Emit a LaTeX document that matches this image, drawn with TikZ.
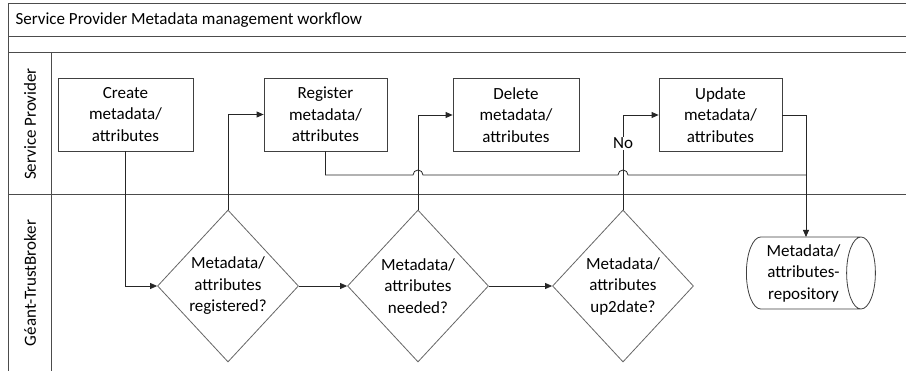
\documentclass[tikz,border=0pt]{standalone}
\usepackage{fontspec}
\setmainfont{Carlito}
\usepackage{tikz}
\usetikzlibrary{arrows.meta}
\usetikzlibrary{positioning,shapes.geometric}
\tikzset{
  every node/.style={font=\fontsize{17}{21.5}\selectfont}
}

\begin{document}
\begin{tikzpicture}[x=1pt,y=-1pt]
  % Define styles for the workflow
  \tikzset{
    process/.style={
      draw=black!75,
      rectangle,
      fill=white,
      minimum height=73pt,
      inner sep=0pt,
      align=center,
      line width=0.8pt
    },
    decision/.style={
      draw=black!60,
      diamond,
      fill=white,
      aspect=0.93,
      minimum width=141pt,
      minimum height=152pt,
      inner sep=-6pt,
      align=center,
      line width=0.8pt
    },
    store/.style={
      draw=black!75,
      cylinder,
      fill=white,
      aspect=0.5,
      minimum height=129pt,
      minimum width=72pt,
      inner sep=0pt,
      align=center,
      line width=0.8pt
    },
    flow/.style={
      draw=black!85,
      line width=0.8pt,
      -{Triangle[length=7pt,width=6pt]}
    },
    lane/.style={
      draw=black!70,
      line width=1pt
    }
  }
  \useasboundingbox (0,0) rectangle (906,371);

  % Pool and swimlanes
  \draw[lane] (8,371) -- (8,4) -- (906,4);
  \draw[lane] (8,37) -- (906,37);
  \draw[lane] (8,53) -- (906,53);
  \draw[lane] (8,195) -- (906,195);
  \draw[lane] (51,53) -- (51,371);
  \node[anchor=west] (title) at (12,20) {Service Provider Metadata management workflow};
  \node[rotate=90] (sp) at (30,124) {Service Provider};
  \node[rotate=90] (gtb) at (30,283) {Géant-TrustBroker};

  % Service Provider tasks
  \node[process, minimum width=135pt] (create) at (125.5,114.5) {Create\\metadata/\\attributes};
  \node[process, minimum width=123pt] (register) at (325.5,114.5) {Register\\metadata/\\attributes};
  \node[process, minimum width=126pt] (delete) at (516,115) {Delete\\metadata/\\attributes};
  \node[process, minimum width=123pt] (update) at (720.5,115) {Update\\metadata/\\attributes};

  % Trust broker decisions and repository
  \node[decision] (registered) at (228,286) {Metadata/\\attributes\\registered?};
  \node[decision] (needed) at (418,286) {Metadata/\\attributes\\needed?};
  \node[decision] (uptodate) at (623,286) {Metadata/\\attributes\\up2date?};
  \node[store] (repo) at (803.5,273) {Metadata/\\attributes-\\repository};
  \coordinate (repotop) at (806,237);

  % Connect the steps
  \draw[flow] (create.south) |- (registered.west);
  \draw[flow] (registered.north) |- (register.west);
  \draw[flow] (registered.east) -- (needed.west);
  \draw[flow] (needed.north) |- (delete.west);
  \draw[flow] (needed.east) -- (uptodate.west);
  \draw[flow] (uptodate.north) |- node[pos=0.35, fill=white, inner sep=1pt] (no) {No} (update.west);
  \draw[flow] (update.east) -| (repotop);
  \draw[draw=black!85, line width=0.8pt] (register.south) |- (413,175)
    arc[start angle=180, end angle=0, radius=5pt] -- (618,175)
    arc[start angle=180, end angle=0, radius=5pt] -- (806,175);
\end{tikzpicture}
\end{document}
